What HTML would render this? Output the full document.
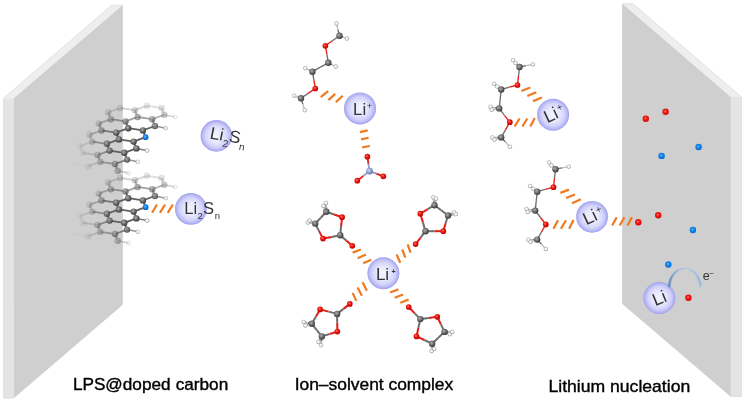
<!DOCTYPE html>
<html><head><meta charset="utf-8"><title>diagram</title>
<style>html,body{margin:0;padding:0;background:#fff;}body{width:745px;height:404px;overflow:hidden;font-family:"Liberation Sans",sans-serif;}</style></head>
<body>
<svg width="745" height="404" viewBox="0 0 745 404" style="display:block;font-family:'Liberation Sans',sans-serif">

<defs>
  <radialGradient id="gC" cx="40%" cy="38%" r="65%">
    <stop offset="0" stop-color="#b0b0b0"/><stop offset="0.45" stop-color="#747474"/><stop offset="1" stop-color="#343434"/>
  </radialGradient>
  <radialGradient id="gO" cx="40%" cy="38%" r="65%">
    <stop offset="0" stop-color="#ff7a6a"/><stop offset="0.4" stop-color="#ee1a12"/><stop offset="1" stop-color="#b80000"/>
  </radialGradient>
  <radialGradient id="gH" cx="45%" cy="42%" r="65%">
    <stop offset="0" stop-color="#ffffff"/><stop offset="0.6" stop-color="#f4f4f4"/><stop offset="1" stop-color="#9a9a9a"/>
  </radialGradient>
  <radialGradient id="gN" cx="42%" cy="40%" r="65%">
    <stop offset="0" stop-color="#5db4ff"/><stop offset="0.45" stop-color="#1683ea"/><stop offset="1" stop-color="#0b55b4"/>
  </radialGradient>
  <radialGradient id="gNn" cx="40%" cy="38%" r="65%">
    <stop offset="0" stop-color="#d4dcf2"/><stop offset="0.5" stop-color="#93a2cf"/><stop offset="1" stop-color="#6070a6"/>
  </radialGradient>
  <radialGradient id="gLi" cx="50%" cy="50%" r="50%">
    <stop offset="0" stop-color="#f3f3ff"/><stop offset="0.4" stop-color="#e9e9fe"/><stop offset="0.72" stop-color="#d2d2fa"/><stop offset="0.92" stop-color="#b2b2f4"/><stop offset="1" stop-color="#9c9cee"/>
  </radialGradient>
  <radialGradient id="gR" cx="45%" cy="42%" r="60%">
    <stop offset="0" stop-color="#ff9c90"/><stop offset="0.3" stop-color="#f5241c"/><stop offset="1" stop-color="#d60000"/>
  </radialGradient>
  <radialGradient id="gB" cx="45%" cy="42%" r="60%">
    <stop offset="0" stop-color="#84ccff"/><stop offset="0.3" stop-color="#168cf2"/><stop offset="1" stop-color="#0565cc"/>
  </radialGradient>
  <linearGradient id="gArc" x1="0" y1="0" x2="1" y2="0">
    <stop offset="0" stop-color="#6c8cb8"/><stop offset="0.2" stop-color="#8caad0"/><stop offset="0.5" stop-color="#adc8e9"/><stop offset="1" stop-color="#96b9e2"/>
  </linearGradient>
  <filter id="tx" x="-5%" y="-5%" width="110%" height="110%"><feOffset dx="0" dy="0"/></filter>
  <filter id="b1" x="-50%" y="-50%" width="200%" height="200%"><feGaussianBlur stdDeviation="0.35"/></filter>
  <filter id="b2" x="-20%" y="-20%" width="140%" height="140%"><feGaussianBlur stdDeviation="0.5"/></filter>
</defs>

<rect width="745" height="404" fill="#fff"/>
<polygon points="3.3,98.2 111.5,5 122.8,5 13.8,98.2" fill="#eeeeee"/>
<polygon points="3.3,98.2 13.8,98.2 13.8,398.2 3.3,398.2" fill="#e4e4e4"/>
<polygon points="13.8,98.2 122.8,5 122.8,304.7 13.8,398.2" fill="#cfcfcf"/>
<polyline points="3.5,398.2 3.5,98.3 111.6,5.2 122.6,5.2" fill="none" stroke="#dcdcdc" stroke-width="0.7"/>
<polyline points="3.3,398 13.8,398" fill="none" stroke="#d8d8d8" stroke-width="0.7"/>
<polygon points="622.1,3.5 633,3.5 741.7,96.9 730.8,96.9" fill="#eeeeee"/>
<polygon points="730.8,96.9 741.7,96.9 741.7,396.7 730.8,396.7" fill="#e4e4e4"/>
<polygon points="622.1,3.5 730.8,96.9 730.8,396.7 622.1,303.8" fill="#cfcfcf"/>
<polyline points="622.3,3.7 632.9,3.7 741.5,97 741.5,396.7" fill="none" stroke="#dcdcdc" stroke-width="0.7"/>
<polyline points="730.8,396.5 741.7,396.5" fill="none" stroke="#d8d8d8" stroke-width="0.7"/>
<g filter="url(#b2)">
<line x1="133.6" y1="141.6" x2="136.3" y2="148.4" stroke="#606060" stroke-width="1.8" opacity="1.00"/>
<line x1="92.2" y1="141.6" x2="106.9" y2="143.8" stroke="#606060" stroke-width="1.8" opacity="0.59"/>
<line x1="134.8" y1="110.2" x2="146.8" y2="105.8" stroke="#606060" stroke-width="1.8" opacity="0.25"/>
<line x1="89.5" y1="134.8" x2="92.2" y2="141.6" stroke="#606060" stroke-width="1.8" opacity="0.29"/>
<line x1="97.6" y1="155.0" x2="109.6" y2="150.6" stroke="#606060" stroke-width="1.8" opacity="0.65"/>
<line x1="128.2" y1="128.2" x2="142.9" y2="130.4" stroke="#606060" stroke-width="1.8" opacity="1.00"/>
<line x1="124.3" y1="152.8" x2="136.3" y2="148.4" stroke="#606060" stroke-width="1.8" opacity="1.00"/>
<line x1="88.3" y1="166.2" x2="100.3" y2="161.8" stroke="#606060" stroke-width="1.8" opacity="0.22"/>
<line x1="115.0" y1="164.0" x2="127.0" y2="159.6" stroke="#606060" stroke-width="1.8" opacity="0.76"/>
<line x1="109.6" y1="150.6" x2="124.3" y2="152.8" stroke="#606060" stroke-width="1.8" opacity="1.00"/>
<line x1="125.5" y1="121.4" x2="137.5" y2="117.0" stroke="#606060" stroke-width="1.8" opacity="0.62"/>
<line x1="82.9" y1="152.8" x2="97.6" y2="155.0" stroke="#606060" stroke-width="1.8" opacity="0.23"/>
<line x1="106.9" y1="143.8" x2="118.9" y2="139.4" stroke="#606060" stroke-width="1.8" opacity="1.00"/>
<line x1="161.5" y1="108.0" x2="164.2" y2="114.8" stroke="#606060" stroke-width="1.8" opacity="0.28"/>
<line x1="116.2" y1="132.6" x2="128.2" y2="128.2" stroke="#606060" stroke-width="1.8" opacity="1.00"/>
<line x1="110.8" y1="119.2" x2="125.5" y2="121.4" stroke="#606060" stroke-width="1.8" opacity="0.61"/>
<line x1="120.1" y1="108.0" x2="134.8" y2="110.2" stroke="#606060" stroke-width="1.8" opacity="0.27"/>
<line x1="98.8" y1="123.6" x2="110.8" y2="119.2" stroke="#606060" stroke-width="1.8" opacity="0.44"/>
<line x1="116.2" y1="132.6" x2="118.9" y2="139.4" stroke="#606060" stroke-width="1.8" opacity="1.00"/>
<line x1="142.9" y1="130.4" x2="154.9" y2="126.0" stroke="#606060" stroke-width="1.8" opacity="0.95"/>
<line x1="137.5" y1="117.0" x2="152.2" y2="119.2" stroke="#606060" stroke-width="1.8" opacity="0.56"/>
<line x1="108.1" y1="112.4" x2="120.1" y2="108.0" stroke="#606060" stroke-width="1.8" opacity="0.26"/>
<line x1="152.2" y1="119.2" x2="164.2" y2="114.8" stroke="#606060" stroke-width="1.8" opacity="0.46"/>
<line x1="80.2" y1="146.0" x2="92.2" y2="141.6" stroke="#606060" stroke-width="1.8" opacity="0.17"/>
<line x1="152.2" y1="119.2" x2="154.9" y2="126.0" stroke="#606060" stroke-width="1.8" opacity="0.70"/>
<line x1="133.6" y1="141.6" x2="145.6" y2="137.2" stroke="#606060" stroke-width="1.8" opacity="1.00"/>
<line x1="124.3" y1="152.8" x2="127.0" y2="159.6" stroke="#606060" stroke-width="1.8" opacity="0.99"/>
<line x1="134.8" y1="110.2" x2="137.5" y2="117.0" stroke="#606060" stroke-width="1.8" opacity="0.41"/>
<line x1="89.5" y1="134.8" x2="101.5" y2="130.4" stroke="#606060" stroke-width="1.8" opacity="0.39"/>
<line x1="146.8" y1="105.8" x2="161.5" y2="108.0" stroke="#606060" stroke-width="1.8" opacity="0.20"/>
<line x1="97.6" y1="155.0" x2="100.3" y2="161.8" stroke="#606060" stroke-width="1.8" opacity="0.41"/>
<line x1="118.9" y1="139.4" x2="133.6" y2="141.6" stroke="#606060" stroke-width="1.8" opacity="1.00"/>
<line x1="100.3" y1="161.8" x2="115.0" y2="164.0" stroke="#606060" stroke-width="1.8" opacity="0.52"/>
<line x1="73.6" y1="164.0" x2="88.3" y2="166.2" stroke="#606060" stroke-width="1.8" opacity="0.04"/>
<line x1="106.9" y1="143.8" x2="109.6" y2="150.6" stroke="#606060" stroke-width="1.8" opacity="0.89"/>
<line x1="115.0" y1="164.0" x2="117.7" y2="170.8" stroke="#606060" stroke-width="1.8" opacity="0.52"/>
<line x1="125.5" y1="121.4" x2="128.2" y2="128.2" stroke="#606060" stroke-width="1.8" opacity="0.85"/>
<line x1="142.9" y1="130.4" x2="145.6" y2="137.2" stroke="#606060" stroke-width="1.8" opacity="1.00"/>
<line x1="108.1" y1="112.4" x2="110.8" y2="119.2" stroke="#606060" stroke-width="1.8" opacity="0.36"/>
<line x1="101.5" y1="130.4" x2="116.2" y2="132.6" stroke="#606060" stroke-width="1.8" opacity="0.81"/>
<line x1="80.2" y1="146.0" x2="82.9" y2="152.8" stroke="#606060" stroke-width="1.8" opacity="0.09"/>
<line x1="98.8" y1="123.6" x2="101.5" y2="130.4" stroke="#606060" stroke-width="1.8" opacity="0.45"/>
<line x1="117.7" y1="170.8" x2="128.5" y2="173.0" stroke="#7c7c7c" stroke-width="1.5" opacity="0.40"/>
<circle cx="128.5" cy="173.0" r="1.9" fill="url(#gH)" stroke="#8e8e8e" stroke-width="0.5" opacity="0.40"/>
<line x1="127.0" y1="159.6" x2="137.8" y2="161.8" stroke="#7c7c7c" stroke-width="1.5" opacity="0.80"/>
<circle cx="137.8" cy="161.8" r="1.9" fill="url(#gH)" stroke="#8e8e8e" stroke-width="0.5" opacity="0.80"/>
<line x1="136.3" y1="148.4" x2="147.1" y2="150.6" stroke="#7c7c7c" stroke-width="1.5" opacity="1.00"/>
<circle cx="147.1" cy="150.6" r="1.9" fill="url(#gH)" stroke="#8e8e8e" stroke-width="0.5" opacity="1.00"/>
<line x1="154.9" y1="126.0" x2="165.7" y2="128.2" stroke="#7c7c7c" stroke-width="1.5" opacity="0.78"/>
<circle cx="165.7" cy="128.2" r="1.9" fill="url(#gH)" stroke="#8e8e8e" stroke-width="0.5" opacity="0.78"/>
<line x1="164.2" y1="114.8" x2="175.0" y2="117.0" stroke="#7c7c7c" stroke-width="1.5" opacity="0.35"/>
<circle cx="175.0" cy="117.0" r="1.9" fill="url(#gH)" stroke="#8e8e8e" stroke-width="0.5" opacity="0.35"/>
<circle cx="109.6" cy="150.6" r="3.2" fill="url(#gC)" opacity="0.88"/>
<circle cx="124.3" cy="152.8" r="3.2" fill="url(#gC)" opacity="1.00"/>
<circle cx="127.0" cy="159.6" r="3.2" fill="url(#gC)" opacity="0.87"/>
<circle cx="115.0" cy="164.0" r="3.2" fill="url(#gC)" opacity="0.61"/>
<circle cx="100.3" cy="161.8" r="3.2" fill="url(#gC)" opacity="0.38"/>
<circle cx="97.6" cy="155.0" r="3.2" fill="url(#gC)" opacity="0.42"/>
<circle cx="118.9" cy="139.4" r="3.2" fill="url(#gC)" opacity="1.00"/>
<circle cx="133.6" cy="141.6" r="3.2" fill="url(#gC)" opacity="1.00"/>
<circle cx="136.3" cy="148.4" r="3.2" fill="url(#gC)" opacity="1.00"/>
<circle cx="106.9" cy="143.8" r="3.2" fill="url(#gC)" opacity="0.87"/>
<circle cx="128.2" cy="128.2" r="3.2" fill="url(#gC)" opacity="0.99"/>
<circle cx="142.9" cy="130.4" r="3.2" fill="url(#gC)" opacity="1.00"/>
<circle cx="116.2" cy="132.6" r="3.2" fill="url(#gC)" opacity="1.00"/>
<circle cx="137.5" cy="117.0" r="3.2" fill="url(#gC)" opacity="0.53"/>
<circle cx="152.2" cy="119.2" r="3.2" fill="url(#gC)" opacity="0.58"/>
<circle cx="154.9" cy="126.0" r="3.2" fill="url(#gC)" opacity="0.82"/>
<circle cx="125.5" cy="121.4" r="3.2" fill="url(#gC)" opacity="0.70"/>
<circle cx="146.8" cy="105.8" r="3.2" fill="url(#gC)" opacity="0.19"/>
<circle cx="161.5" cy="108.0" r="3.2" fill="url(#gC)" opacity="0.21"/>
<circle cx="164.2" cy="114.8" r="3.2" fill="url(#gC)" opacity="0.36"/>
<circle cx="134.8" cy="110.2" r="3.2" fill="url(#gC)" opacity="0.31"/>
<circle cx="82.9" cy="152.8" r="3.2" fill="url(#gC)" opacity="0.10"/>
<circle cx="88.3" cy="166.2" r="3.2" fill="url(#gC)" opacity="0.11"/>
<circle cx="92.2" cy="141.6" r="3.2" fill="url(#gC)" opacity="0.33"/>
<circle cx="80.2" cy="146.0" r="3.2" fill="url(#gC)" opacity="0.07"/>
<circle cx="101.5" cy="130.4" r="3.2" fill="url(#gC)" opacity="0.56"/>
<circle cx="89.5" cy="134.8" r="3.2" fill="url(#gC)" opacity="0.24"/>
<circle cx="110.8" cy="119.2" r="3.2" fill="url(#gC)" opacity="0.48"/>
<circle cx="98.8" cy="123.6" r="3.2" fill="url(#gC)" opacity="0.35"/>
<circle cx="120.1" cy="108.0" r="3.2" fill="url(#gC)" opacity="0.23"/>
<circle cx="108.1" cy="112.4" r="3.2" fill="url(#gC)" opacity="0.26"/>
<circle cx="117.7" cy="170.8" r="3.2" fill="url(#gC)" opacity="0.43"/>
<circle cx="145.6" cy="137.2" r="2.9" fill="url(#gN)"/>
<line x1="128.2" y1="198.2" x2="142.9" y2="200.4" stroke="#606060" stroke-width="1.8" opacity="1.00"/>
<line x1="115.0" y1="234.0" x2="127.0" y2="229.6" stroke="#606060" stroke-width="1.8" opacity="0.76"/>
<line x1="97.6" y1="225.0" x2="100.3" y2="231.8" stroke="#606060" stroke-width="1.8" opacity="0.41"/>
<line x1="124.3" y1="222.8" x2="136.3" y2="218.4" stroke="#606060" stroke-width="1.8" opacity="1.00"/>
<line x1="118.9" y1="209.4" x2="133.6" y2="211.6" stroke="#606060" stroke-width="1.8" opacity="1.00"/>
<line x1="88.3" y1="236.2" x2="100.3" y2="231.8" stroke="#606060" stroke-width="1.8" opacity="0.22"/>
<line x1="108.1" y1="182.4" x2="120.1" y2="178.0" stroke="#606060" stroke-width="1.8" opacity="0.26"/>
<line x1="134.8" y1="180.2" x2="146.8" y2="175.8" stroke="#606060" stroke-width="1.8" opacity="0.25"/>
<line x1="152.2" y1="189.2" x2="164.2" y2="184.8" stroke="#606060" stroke-width="1.8" opacity="0.46"/>
<line x1="116.2" y1="202.6" x2="128.2" y2="198.2" stroke="#606060" stroke-width="1.8" opacity="1.00"/>
<line x1="108.1" y1="182.4" x2="110.8" y2="189.2" stroke="#606060" stroke-width="1.8" opacity="0.36"/>
<line x1="98.8" y1="193.6" x2="110.8" y2="189.2" stroke="#606060" stroke-width="1.8" opacity="0.44"/>
<line x1="152.2" y1="189.2" x2="154.9" y2="196.0" stroke="#606060" stroke-width="1.8" opacity="0.70"/>
<line x1="125.5" y1="191.4" x2="137.5" y2="187.0" stroke="#606060" stroke-width="1.8" opacity="0.62"/>
<line x1="133.6" y1="211.6" x2="145.6" y2="207.2" stroke="#606060" stroke-width="1.8" opacity="1.00"/>
<line x1="161.5" y1="178.0" x2="164.2" y2="184.8" stroke="#606060" stroke-width="1.8" opacity="0.28"/>
<line x1="110.8" y1="189.2" x2="125.5" y2="191.4" stroke="#606060" stroke-width="1.8" opacity="0.61"/>
<line x1="106.9" y1="213.8" x2="109.6" y2="220.6" stroke="#606060" stroke-width="1.8" opacity="0.89"/>
<line x1="142.9" y1="200.4" x2="154.9" y2="196.0" stroke="#606060" stroke-width="1.8" opacity="0.95"/>
<line x1="124.3" y1="222.8" x2="127.0" y2="229.6" stroke="#606060" stroke-width="1.8" opacity="0.99"/>
<line x1="82.9" y1="222.8" x2="97.6" y2="225.0" stroke="#606060" stroke-width="1.8" opacity="0.23"/>
<line x1="89.5" y1="204.8" x2="101.5" y2="200.4" stroke="#606060" stroke-width="1.8" opacity="0.39"/>
<line x1="146.8" y1="175.8" x2="161.5" y2="178.0" stroke="#606060" stroke-width="1.8" opacity="0.20"/>
<line x1="100.3" y1="231.8" x2="115.0" y2="234.0" stroke="#606060" stroke-width="1.8" opacity="0.52"/>
<line x1="116.2" y1="202.6" x2="118.9" y2="209.4" stroke="#606060" stroke-width="1.8" opacity="1.00"/>
<line x1="80.2" y1="216.0" x2="92.2" y2="211.6" stroke="#606060" stroke-width="1.8" opacity="0.17"/>
<line x1="137.5" y1="187.0" x2="152.2" y2="189.2" stroke="#606060" stroke-width="1.8" opacity="0.56"/>
<line x1="134.8" y1="180.2" x2="137.5" y2="187.0" stroke="#606060" stroke-width="1.8" opacity="0.41"/>
<line x1="109.6" y1="220.6" x2="124.3" y2="222.8" stroke="#606060" stroke-width="1.8" opacity="1.00"/>
<line x1="120.1" y1="178.0" x2="134.8" y2="180.2" stroke="#606060" stroke-width="1.8" opacity="0.27"/>
<line x1="115.0" y1="234.0" x2="117.7" y2="240.8" stroke="#606060" stroke-width="1.8" opacity="0.52"/>
<line x1="133.6" y1="211.6" x2="136.3" y2="218.4" stroke="#606060" stroke-width="1.8" opacity="1.00"/>
<line x1="92.2" y1="211.6" x2="106.9" y2="213.8" stroke="#606060" stroke-width="1.8" opacity="0.59"/>
<line x1="73.6" y1="234.0" x2="88.3" y2="236.2" stroke="#606060" stroke-width="1.8" opacity="0.04"/>
<line x1="97.6" y1="225.0" x2="109.6" y2="220.6" stroke="#606060" stroke-width="1.8" opacity="0.65"/>
<line x1="98.8" y1="193.6" x2="101.5" y2="200.4" stroke="#606060" stroke-width="1.8" opacity="0.45"/>
<line x1="125.5" y1="191.4" x2="128.2" y2="198.2" stroke="#606060" stroke-width="1.8" opacity="0.85"/>
<line x1="106.9" y1="213.8" x2="118.9" y2="209.4" stroke="#606060" stroke-width="1.8" opacity="1.00"/>
<line x1="142.9" y1="200.4" x2="145.6" y2="207.2" stroke="#606060" stroke-width="1.8" opacity="1.00"/>
<line x1="101.5" y1="200.4" x2="116.2" y2="202.6" stroke="#606060" stroke-width="1.8" opacity="0.81"/>
<line x1="80.2" y1="216.0" x2="82.9" y2="222.8" stroke="#606060" stroke-width="1.8" opacity="0.09"/>
<line x1="89.5" y1="204.8" x2="92.2" y2="211.6" stroke="#606060" stroke-width="1.8" opacity="0.29"/>
<line x1="117.7" y1="240.8" x2="128.5" y2="243.0" stroke="#7c7c7c" stroke-width="1.5" opacity="0.40"/>
<circle cx="128.5" cy="243.0" r="1.9" fill="url(#gH)" stroke="#8e8e8e" stroke-width="0.5" opacity="0.40"/>
<line x1="127.0" y1="229.6" x2="137.8" y2="231.8" stroke="#7c7c7c" stroke-width="1.5" opacity="0.80"/>
<circle cx="137.8" cy="231.8" r="1.9" fill="url(#gH)" stroke="#8e8e8e" stroke-width="0.5" opacity="0.80"/>
<line x1="136.3" y1="218.4" x2="147.1" y2="220.6" stroke="#7c7c7c" stroke-width="1.5" opacity="1.00"/>
<circle cx="147.1" cy="220.6" r="1.9" fill="url(#gH)" stroke="#8e8e8e" stroke-width="0.5" opacity="1.00"/>
<line x1="154.9" y1="196.0" x2="165.7" y2="198.2" stroke="#7c7c7c" stroke-width="1.5" opacity="0.78"/>
<circle cx="165.7" cy="198.2" r="1.9" fill="url(#gH)" stroke="#8e8e8e" stroke-width="0.5" opacity="0.78"/>
<line x1="164.2" y1="184.8" x2="175.0" y2="187.0" stroke="#7c7c7c" stroke-width="1.5" opacity="0.35"/>
<circle cx="175.0" cy="187.0" r="1.9" fill="url(#gH)" stroke="#8e8e8e" stroke-width="0.5" opacity="0.35"/>
<circle cx="109.6" cy="220.6" r="3.2" fill="url(#gC)" opacity="0.88"/>
<circle cx="124.3" cy="222.8" r="3.2" fill="url(#gC)" opacity="1.00"/>
<circle cx="127.0" cy="229.6" r="3.2" fill="url(#gC)" opacity="0.87"/>
<circle cx="115.0" cy="234.0" r="3.2" fill="url(#gC)" opacity="0.61"/>
<circle cx="100.3" cy="231.8" r="3.2" fill="url(#gC)" opacity="0.38"/>
<circle cx="97.6" cy="225.0" r="3.2" fill="url(#gC)" opacity="0.42"/>
<circle cx="118.9" cy="209.4" r="3.2" fill="url(#gC)" opacity="1.00"/>
<circle cx="133.6" cy="211.6" r="3.2" fill="url(#gC)" opacity="1.00"/>
<circle cx="136.3" cy="218.4" r="3.2" fill="url(#gC)" opacity="1.00"/>
<circle cx="106.9" cy="213.8" r="3.2" fill="url(#gC)" opacity="0.87"/>
<circle cx="128.2" cy="198.2" r="3.2" fill="url(#gC)" opacity="0.99"/>
<circle cx="142.9" cy="200.4" r="3.2" fill="url(#gC)" opacity="1.00"/>
<circle cx="116.2" cy="202.6" r="3.2" fill="url(#gC)" opacity="1.00"/>
<circle cx="137.5" cy="187.0" r="3.2" fill="url(#gC)" opacity="0.53"/>
<circle cx="152.2" cy="189.2" r="3.2" fill="url(#gC)" opacity="0.58"/>
<circle cx="154.9" cy="196.0" r="3.2" fill="url(#gC)" opacity="0.82"/>
<circle cx="125.5" cy="191.4" r="3.2" fill="url(#gC)" opacity="0.70"/>
<circle cx="146.8" cy="175.8" r="3.2" fill="url(#gC)" opacity="0.19"/>
<circle cx="161.5" cy="178.0" r="3.2" fill="url(#gC)" opacity="0.21"/>
<circle cx="164.2" cy="184.8" r="3.2" fill="url(#gC)" opacity="0.36"/>
<circle cx="134.8" cy="180.2" r="3.2" fill="url(#gC)" opacity="0.31"/>
<circle cx="82.9" cy="222.8" r="3.2" fill="url(#gC)" opacity="0.10"/>
<circle cx="88.3" cy="236.2" r="3.2" fill="url(#gC)" opacity="0.11"/>
<circle cx="92.2" cy="211.6" r="3.2" fill="url(#gC)" opacity="0.33"/>
<circle cx="80.2" cy="216.0" r="3.2" fill="url(#gC)" opacity="0.07"/>
<circle cx="101.5" cy="200.4" r="3.2" fill="url(#gC)" opacity="0.56"/>
<circle cx="89.5" cy="204.8" r="3.2" fill="url(#gC)" opacity="0.24"/>
<circle cx="110.8" cy="189.2" r="3.2" fill="url(#gC)" opacity="0.48"/>
<circle cx="98.8" cy="193.6" r="3.2" fill="url(#gC)" opacity="0.35"/>
<circle cx="120.1" cy="178.0" r="3.2" fill="url(#gC)" opacity="0.23"/>
<circle cx="108.1" cy="182.4" r="3.2" fill="url(#gC)" opacity="0.26"/>
<circle cx="117.7" cy="240.8" r="3.2" fill="url(#gC)" opacity="0.43"/>
<circle cx="145.6" cy="207.2" r="2.9" fill="url(#gN)"/>
</g>
<circle cx="216.4" cy="135.9" r="15.8" fill="url(#gLi)"/>
<circle cx="190.9" cy="208.9" r="15.9" fill="url(#gLi)"/>
<line x1="152.1" y1="212.8" x2="157.0" y2="204.5" stroke="#ef7a1f" stroke-width="2.2"/>
<line x1="159.9" y1="212.8" x2="165.1" y2="204.5" stroke="#ef7a1f" stroke-width="2.2"/>
<line x1="167.7" y1="212.8" x2="172.9" y2="204.5" stroke="#ef7a1f" stroke-width="2.2"/>


<g filter="url(#b1)">
<line x1="336.4" y1="23.5" x2="337.9" y2="29.6" stroke="#bdbdbd" stroke-width="1.35"/>
<line x1="337.9" y1="29.6" x2="339.5" y2="35.8" stroke="#6e6e6e" stroke-width="1.35"/>
<line x1="339.5" y1="35.8" x2="343.2" y2="37.1" stroke="#6e6e6e" stroke-width="1.35"/>
<line x1="343.2" y1="37.1" x2="346.9" y2="38.5" stroke="#bdbdbd" stroke-width="1.35"/>
<line x1="339.5" y1="35.8" x2="332.4" y2="40.8" stroke="#6e6e6e" stroke-width="1.35"/>
<line x1="332.4" y1="40.8" x2="325.4" y2="45.8" stroke="#e81a14" stroke-width="1.35"/>
<line x1="325.4" y1="45.8" x2="326.9" y2="54.3" stroke="#e81a14" stroke-width="1.35"/>
<line x1="326.9" y1="54.3" x2="328.3" y2="62.8" stroke="#6e6e6e" stroke-width="1.35"/>
<line x1="328.3" y1="62.8" x2="332.1" y2="64.7" stroke="#6e6e6e" stroke-width="1.35"/>
<line x1="332.1" y1="64.7" x2="335.8" y2="66.5" stroke="#bdbdbd" stroke-width="1.35"/>
<line x1="328.3" y1="62.8" x2="320.4" y2="67.2" stroke="#6e6e6e" stroke-width="1.35"/>
<line x1="320.4" y1="67.2" x2="312.4" y2="71.7" stroke="#6e6e6e" stroke-width="1.35"/>
<line x1="312.4" y1="71.7" x2="308.9" y2="70.0" stroke="#6e6e6e" stroke-width="1.35"/>
<line x1="308.9" y1="70.0" x2="305.3" y2="68.2" stroke="#bdbdbd" stroke-width="1.35"/>
<line x1="312.4" y1="71.7" x2="313.9" y2="80.1" stroke="#6e6e6e" stroke-width="1.35"/>
<line x1="313.9" y1="80.1" x2="315.3" y2="88.5" stroke="#e81a14" stroke-width="1.35"/>
<line x1="315.3" y1="88.5" x2="308.1" y2="93.4" stroke="#e81a14" stroke-width="1.35"/>
<line x1="308.1" y1="93.4" x2="301.0" y2="98.3" stroke="#6e6e6e" stroke-width="1.35"/>
<line x1="301.0" y1="98.3" x2="297.6" y2="97.0" stroke="#6e6e6e" stroke-width="1.35"/>
<line x1="297.6" y1="97.0" x2="294.2" y2="95.7" stroke="#bdbdbd" stroke-width="1.35"/>
<line x1="301.0" y1="98.3" x2="302.9" y2="104.2" stroke="#6e6e6e" stroke-width="1.35"/>
<line x1="302.9" y1="104.2" x2="304.7" y2="110.2" stroke="#bdbdbd" stroke-width="1.35"/>
<circle cx="336.4" cy="23.5" r="1.9" fill="url(#gH)" stroke="#909090" stroke-width="0.5"/>
<circle cx="346.9" cy="38.5" r="1.9" fill="url(#gH)" stroke="#909090" stroke-width="0.5"/>
<circle cx="335.8" cy="66.5" r="1.9" fill="url(#gH)" stroke="#909090" stroke-width="0.5"/>
<circle cx="305.3" cy="68.2" r="1.9" fill="url(#gH)" stroke="#909090" stroke-width="0.5"/>
<circle cx="294.2" cy="95.7" r="1.9" fill="url(#gH)" stroke="#909090" stroke-width="0.5"/>
<circle cx="304.7" cy="110.2" r="1.9" fill="url(#gH)" stroke="#909090" stroke-width="0.5"/>
<circle cx="339.5" cy="35.8" r="3.2" fill="url(#gC)"/>
<circle cx="325.4" cy="45.8" r="2.85" fill="url(#gO)"/>
<circle cx="328.3" cy="62.8" r="3.2" fill="url(#gC)"/>
<circle cx="312.4" cy="71.7" r="3.2" fill="url(#gC)"/>
<circle cx="315.3" cy="88.5" r="2.85" fill="url(#gO)"/>
<circle cx="301.0" cy="98.3" r="3.2" fill="url(#gC)"/>
</g>
<line x1="320.7" y1="97.1" x2="328.1" y2="91.2" stroke="#ef7a1f" stroke-width="2.2"/>
<line x1="328.4" y1="100.1" x2="335.2" y2="93.9" stroke="#ef7a1f" stroke-width="2.2"/>
<line x1="335.8" y1="102.3" x2="342.7" y2="95.7" stroke="#ef7a1f" stroke-width="2.2"/>
<circle cx="360" cy="108.4" r="16" fill="url(#gLi)"/>

<line x1="359.9" y1="132.1" x2="367.7" y2="130.4" stroke="#ef7a1f" stroke-width="2.2"/>
<line x1="361.1" y1="139.4" x2="368.6" y2="137.7" stroke="#ef7a1f" stroke-width="2.2"/>
<line x1="362.2" y1="147.4" x2="369.8" y2="146.0" stroke="#ef7a1f" stroke-width="2.2"/>
<g filter="url(#b1)">
<line x1="367.4" y1="156.7" x2="368.4" y2="163.9" stroke="#e81a14" stroke-width="1.8"/>
<line x1="368.4" y1="163.9" x2="369.5" y2="171.1" stroke="#8b9acb" stroke-width="1.8"/>
<line x1="369.5" y1="171.1" x2="376.4" y2="173.7" stroke="#8b9acb" stroke-width="1.8"/>
<line x1="376.4" y1="173.7" x2="383.3" y2="176.3" stroke="#e81a14" stroke-width="1.8"/>
<line x1="369.5" y1="171.1" x2="363.4" y2="175.9" stroke="#8b9acb" stroke-width="1.8"/>
<line x1="363.4" y1="175.9" x2="357.3" y2="180.7" stroke="#e81a14" stroke-width="1.8"/>
<circle cx="367.4" cy="156.7" r="2.85" fill="url(#gO)"/>
<circle cx="369.5" cy="171.1" r="3.4" fill="url(#gNn)"/>
<circle cx="383.3" cy="176.3" r="2.85" fill="url(#gO)"/>
<circle cx="357.3" cy="180.7" r="2.85" fill="url(#gO)"/>
</g>
<g filter="url(#b1)">
<line x1="326.3" y1="211.8" x2="326.1" y2="207.4" stroke="#6e6e6e" stroke-width="2.0"/>
<line x1="326.1" y1="207.4" x2="326.0" y2="203.0" stroke="#bdbdbd" stroke-width="2.0"/>
<line x1="326.3" y1="211.8" x2="324.9" y2="208.9" stroke="#6e6e6e" stroke-width="2.0"/>
<line x1="324.9" y1="208.9" x2="323.4" y2="206.0" stroke="#bdbdbd" stroke-width="2.0"/>
<line x1="326.3" y1="211.8" x2="320.8" y2="217.7" stroke="#6e6e6e" stroke-width="2.0"/>
<line x1="320.8" y1="217.7" x2="315.2" y2="223.6" stroke="#6e6e6e" stroke-width="2.0"/>
<line x1="315.2" y1="223.6" x2="311.5" y2="223.1" stroke="#6e6e6e" stroke-width="2.0"/>
<line x1="311.5" y1="223.1" x2="307.8" y2="222.5" stroke="#bdbdbd" stroke-width="2.0"/>
<line x1="315.2" y1="223.6" x2="312.4" y2="222.1" stroke="#6e6e6e" stroke-width="2.0"/>
<line x1="312.4" y1="222.1" x2="309.5" y2="220.5" stroke="#bdbdbd" stroke-width="2.0"/>
<line x1="326.3" y1="211.8" x2="334.2" y2="214.5" stroke="#6e6e6e" stroke-width="2.0"/>
<line x1="334.2" y1="214.5" x2="342.1" y2="217.2" stroke="#e81a14" stroke-width="2.0"/>
<line x1="315.2" y1="223.6" x2="319.1" y2="231.1" stroke="#6e6e6e" stroke-width="2.0"/>
<line x1="319.1" y1="231.1" x2="323.0" y2="238.6" stroke="#e81a14" stroke-width="2.0"/>
<line x1="342.1" y1="217.2" x2="341.1" y2="226.2" stroke="#e81a14" stroke-width="2.0"/>
<line x1="341.1" y1="226.2" x2="340.2" y2="235.2" stroke="#6e6e6e" stroke-width="2.0"/>
<line x1="323.0" y1="238.6" x2="331.6" y2="236.9" stroke="#e81a14" stroke-width="2.0"/>
<line x1="331.6" y1="236.9" x2="340.2" y2="235.2" stroke="#6e6e6e" stroke-width="2.0"/>
<line x1="340.2" y1="235.2" x2="346.2" y2="240.5" stroke="#6e6e6e" stroke-width="2.0"/>
<line x1="346.2" y1="240.5" x2="352.3" y2="245.8" stroke="#e81a14" stroke-width="2.0"/>
<circle cx="326.0" cy="203.0" r="1.9" fill="url(#gH)" stroke="#909090" stroke-width="0.5"/>
<circle cx="323.4" cy="206.0" r="1.9" fill="url(#gH)" stroke="#909090" stroke-width="0.5"/>
<circle cx="307.8" cy="222.5" r="1.9" fill="url(#gH)" stroke="#909090" stroke-width="0.5"/>
<circle cx="309.5" cy="220.5" r="1.9" fill="url(#gH)" stroke="#909090" stroke-width="0.5"/>
<circle cx="326.3" cy="211.8" r="3.2" fill="url(#gC)"/>
<circle cx="315.2" cy="223.6" r="3.2" fill="url(#gC)"/>
<circle cx="342.1" cy="217.2" r="2.85" fill="url(#gO)"/>
<circle cx="323.0" cy="238.6" r="2.85" fill="url(#gO)"/>
<circle cx="340.2" cy="235.2" r="3.2" fill="url(#gC)"/>
<circle cx="352.3" cy="245.8" r="2.85" fill="url(#gO)"/>
<line x1="434.5" y1="205.2" x2="433.9" y2="201.2" stroke="#6e6e6e" stroke-width="2.0"/>
<line x1="433.9" y1="201.2" x2="433.3" y2="197.3" stroke="#bdbdbd" stroke-width="2.0"/>
<line x1="434.5" y1="205.2" x2="435.2" y2="201.9" stroke="#6e6e6e" stroke-width="2.0"/>
<line x1="435.2" y1="201.9" x2="435.9" y2="198.7" stroke="#bdbdbd" stroke-width="2.0"/>
<line x1="434.5" y1="205.2" x2="441.2" y2="210.3" stroke="#6e6e6e" stroke-width="2.0"/>
<line x1="441.2" y1="210.3" x2="448.0" y2="215.5" stroke="#6e6e6e" stroke-width="2.0"/>
<line x1="448.0" y1="215.5" x2="451.1" y2="213.8" stroke="#6e6e6e" stroke-width="2.0"/>
<line x1="451.1" y1="213.8" x2="454.1" y2="212.2" stroke="#bdbdbd" stroke-width="2.0"/>
<line x1="448.0" y1="215.5" x2="451.9" y2="214.8" stroke="#6e6e6e" stroke-width="2.0"/>
<line x1="451.9" y1="214.8" x2="455.8" y2="214.2" stroke="#bdbdbd" stroke-width="2.0"/>
<line x1="434.5" y1="205.2" x2="427.4" y2="209.4" stroke="#6e6e6e" stroke-width="2.0"/>
<line x1="427.4" y1="209.4" x2="420.3" y2="213.7" stroke="#e81a14" stroke-width="2.0"/>
<line x1="448.0" y1="215.5" x2="445.6" y2="223.3" stroke="#6e6e6e" stroke-width="2.0"/>
<line x1="445.6" y1="223.3" x2="443.3" y2="231.2" stroke="#e81a14" stroke-width="2.0"/>
<line x1="420.3" y1="213.7" x2="422.9" y2="222.4" stroke="#e81a14" stroke-width="2.0"/>
<line x1="422.9" y1="222.4" x2="425.5" y2="231.2" stroke="#6e6e6e" stroke-width="2.0"/>
<line x1="443.3" y1="231.2" x2="434.4" y2="231.2" stroke="#e81a14" stroke-width="2.0"/>
<line x1="434.4" y1="231.2" x2="425.5" y2="231.2" stroke="#6e6e6e" stroke-width="2.0"/>
<line x1="425.5" y1="231.2" x2="420.6" y2="237.6" stroke="#6e6e6e" stroke-width="2.0"/>
<line x1="420.6" y1="237.6" x2="415.6" y2="244.1" stroke="#e81a14" stroke-width="2.0"/>
<circle cx="433.3" cy="197.3" r="1.9" fill="url(#gH)" stroke="#909090" stroke-width="0.5"/>
<circle cx="435.9" cy="198.7" r="1.9" fill="url(#gH)" stroke="#909090" stroke-width="0.5"/>
<circle cx="454.1" cy="212.2" r="1.9" fill="url(#gH)" stroke="#909090" stroke-width="0.5"/>
<circle cx="455.8" cy="214.2" r="1.9" fill="url(#gH)" stroke="#909090" stroke-width="0.5"/>
<circle cx="434.5" cy="205.2" r="3.2" fill="url(#gC)"/>
<circle cx="448.0" cy="215.5" r="3.2" fill="url(#gC)"/>
<circle cx="420.3" cy="213.7" r="2.85" fill="url(#gO)"/>
<circle cx="443.3" cy="231.2" r="2.85" fill="url(#gO)"/>
<circle cx="425.5" cy="231.2" r="3.2" fill="url(#gC)"/>
<circle cx="415.6" cy="244.1" r="2.85" fill="url(#gO)"/>
<line x1="321.8" y1="336.4" x2="320.1" y2="339.1" stroke="#6e6e6e" stroke-width="2.0"/>
<line x1="320.1" y1="339.1" x2="318.4" y2="341.9" stroke="#bdbdbd" stroke-width="2.0"/>
<line x1="321.8" y1="336.4" x2="321.4" y2="340.8" stroke="#6e6e6e" stroke-width="2.0"/>
<line x1="321.4" y1="340.8" x2="321.0" y2="345.1" stroke="#bdbdbd" stroke-width="2.0"/>
<line x1="321.8" y1="336.4" x2="316.8" y2="330.1" stroke="#6e6e6e" stroke-width="2.0"/>
<line x1="316.8" y1="330.1" x2="311.8" y2="323.8" stroke="#6e6e6e" stroke-width="2.0"/>
<line x1="311.8" y1="323.8" x2="307.8" y2="322.9" stroke="#6e6e6e" stroke-width="2.0"/>
<line x1="307.8" y1="322.9" x2="303.7" y2="322.0" stroke="#bdbdbd" stroke-width="2.0"/>
<line x1="311.8" y1="323.8" x2="308.6" y2="324.6" stroke="#6e6e6e" stroke-width="2.0"/>
<line x1="308.6" y1="324.6" x2="305.4" y2="325.5" stroke="#bdbdbd" stroke-width="2.0"/>
<line x1="321.8" y1="336.4" x2="329.6" y2="334.0" stroke="#6e6e6e" stroke-width="2.0"/>
<line x1="329.6" y1="334.0" x2="337.4" y2="331.6" stroke="#e81a14" stroke-width="2.0"/>
<line x1="311.8" y1="323.8" x2="316.0" y2="316.6" stroke="#6e6e6e" stroke-width="2.0"/>
<line x1="316.0" y1="316.6" x2="320.1" y2="309.4" stroke="#e81a14" stroke-width="2.0"/>
<line x1="337.4" y1="331.6" x2="337.2" y2="322.8" stroke="#e81a14" stroke-width="2.0"/>
<line x1="337.2" y1="322.8" x2="337.1" y2="313.9" stroke="#6e6e6e" stroke-width="2.0"/>
<line x1="320.1" y1="309.4" x2="328.6" y2="311.6" stroke="#e81a14" stroke-width="2.0"/>
<line x1="328.6" y1="311.6" x2="337.1" y2="313.9" stroke="#6e6e6e" stroke-width="2.0"/>
<line x1="337.1" y1="313.9" x2="343.5" y2="308.9" stroke="#6e6e6e" stroke-width="2.0"/>
<line x1="343.5" y1="308.9" x2="349.8" y2="303.9" stroke="#e81a14" stroke-width="2.0"/>
<circle cx="318.4" cy="341.9" r="1.9" fill="url(#gH)" stroke="#909090" stroke-width="0.5"/>
<circle cx="321.0" cy="345.1" r="1.9" fill="url(#gH)" stroke="#909090" stroke-width="0.5"/>
<circle cx="303.7" cy="322.0" r="1.9" fill="url(#gH)" stroke="#909090" stroke-width="0.5"/>
<circle cx="305.4" cy="325.5" r="1.9" fill="url(#gH)" stroke="#909090" stroke-width="0.5"/>
<circle cx="321.8" cy="336.4" r="3.2" fill="url(#gC)"/>
<circle cx="311.8" cy="323.8" r="3.2" fill="url(#gC)"/>
<circle cx="337.4" cy="331.6" r="2.85" fill="url(#gO)"/>
<circle cx="320.1" cy="309.4" r="2.85" fill="url(#gO)"/>
<circle cx="337.1" cy="313.9" r="3.2" fill="url(#gC)"/>
<circle cx="349.8" cy="303.9" r="2.85" fill="url(#gO)"/>
<line x1="432.1" y1="343.7" x2="431.9" y2="347.4" stroke="#6e6e6e" stroke-width="2.0"/>
<line x1="431.9" y1="347.4" x2="431.6" y2="351.0" stroke="#bdbdbd" stroke-width="2.0"/>
<line x1="432.1" y1="343.7" x2="433.1" y2="346.3" stroke="#6e6e6e" stroke-width="2.0"/>
<line x1="433.1" y1="346.3" x2="434.2" y2="348.9" stroke="#bdbdbd" stroke-width="2.0"/>
<line x1="432.1" y1="343.7" x2="438.3" y2="337.8" stroke="#6e6e6e" stroke-width="2.0"/>
<line x1="438.3" y1="337.8" x2="444.5" y2="331.9" stroke="#6e6e6e" stroke-width="2.0"/>
<line x1="444.5" y1="331.9" x2="447.1" y2="333.0" stroke="#6e6e6e" stroke-width="2.0"/>
<line x1="447.1" y1="333.0" x2="449.7" y2="334.2" stroke="#bdbdbd" stroke-width="2.0"/>
<line x1="444.5" y1="331.9" x2="448.4" y2="331.9" stroke="#6e6e6e" stroke-width="2.0"/>
<line x1="448.4" y1="331.9" x2="452.3" y2="331.9" stroke="#bdbdbd" stroke-width="2.0"/>
<line x1="432.1" y1="343.7" x2="424.3" y2="340.0" stroke="#6e6e6e" stroke-width="2.0"/>
<line x1="424.3" y1="340.0" x2="416.5" y2="336.4" stroke="#e81a14" stroke-width="2.0"/>
<line x1="444.5" y1="331.9" x2="440.9" y2="324.4" stroke="#6e6e6e" stroke-width="2.0"/>
<line x1="440.9" y1="324.4" x2="437.3" y2="316.8" stroke="#e81a14" stroke-width="2.0"/>
<line x1="416.5" y1="336.4" x2="418.4" y2="327.8" stroke="#e81a14" stroke-width="2.0"/>
<line x1="418.4" y1="327.8" x2="420.3" y2="319.1" stroke="#6e6e6e" stroke-width="2.0"/>
<line x1="437.3" y1="316.8" x2="428.8" y2="318.0" stroke="#e81a14" stroke-width="2.0"/>
<line x1="428.8" y1="318.0" x2="420.3" y2="319.1" stroke="#6e6e6e" stroke-width="2.0"/>
<line x1="420.3" y1="319.1" x2="414.5" y2="313.1" stroke="#6e6e6e" stroke-width="2.0"/>
<line x1="414.5" y1="313.1" x2="408.7" y2="307.0" stroke="#e81a14" stroke-width="2.0"/>
<circle cx="431.6" cy="351.0" r="1.9" fill="url(#gH)" stroke="#909090" stroke-width="0.5"/>
<circle cx="434.2" cy="348.9" r="1.9" fill="url(#gH)" stroke="#909090" stroke-width="0.5"/>
<circle cx="449.7" cy="334.2" r="1.9" fill="url(#gH)" stroke="#909090" stroke-width="0.5"/>
<circle cx="452.3" cy="331.9" r="1.9" fill="url(#gH)" stroke="#909090" stroke-width="0.5"/>
<circle cx="432.1" cy="343.7" r="3.2" fill="url(#gC)"/>
<circle cx="444.5" cy="331.9" r="3.2" fill="url(#gC)"/>
<circle cx="416.5" cy="336.4" r="2.85" fill="url(#gO)"/>
<circle cx="437.3" cy="316.8" r="2.85" fill="url(#gO)"/>
<circle cx="420.3" cy="319.1" r="3.2" fill="url(#gC)"/>
<circle cx="408.7" cy="307.0" r="2.85" fill="url(#gO)"/>
</g>
<line x1="352.6" y1="252.6" x2="360.8" y2="249.5" stroke="#ef7a1f" stroke-width="2.2"/>
<line x1="357.6" y1="258.2" x2="366.0" y2="254.5" stroke="#ef7a1f" stroke-width="2.2"/>
<line x1="363.2" y1="263.2" x2="371.2" y2="259.7" stroke="#ef7a1f" stroke-width="2.2"/>
<line x1="407.7" y1="244.3" x2="410.5" y2="252.6" stroke="#ef7a1f" stroke-width="2.2"/>
<line x1="402.2" y1="249.5" x2="405.3" y2="257.6" stroke="#ef7a1f" stroke-width="2.2"/>
<line x1="396.6" y1="254.5" x2="400.3" y2="262.8" stroke="#ef7a1f" stroke-width="2.2"/>
<line x1="362.6" y1="282.3" x2="366.9" y2="290.7" stroke="#ef7a1f" stroke-width="2.2"/>
<line x1="357.6" y1="287.5" x2="361.9" y2="295.7" stroke="#ef7a1f" stroke-width="2.2"/>
<line x1="352.6" y1="292.9" x2="356.3" y2="300.9" stroke="#ef7a1f" stroke-width="2.2"/>
<line x1="390.1" y1="292.5" x2="398.4" y2="289.4" stroke="#ef7a1f" stroke-width="2.2"/>
<line x1="394.7" y1="297.7" x2="403.1" y2="294.4" stroke="#ef7a1f" stroke-width="2.2"/>
<line x1="400.3" y1="302.7" x2="408.6" y2="299.6" stroke="#ef7a1f" stroke-width="2.2"/>
<circle cx="383.4" cy="273.2" r="16" fill="url(#gLi)"/>

<g filter="url(#b1)">
<line x1="519.5" y1="67.0" x2="516.3" y2="63.6" stroke="#6e6e6e" stroke-width="1.35"/>
<line x1="516.3" y1="63.6" x2="513.1" y2="60.2" stroke="#bdbdbd" stroke-width="1.35"/>
<line x1="519.5" y1="67.0" x2="517.5" y2="65.0" stroke="#6e6e6e" stroke-width="1.35"/>
<line x1="517.5" y1="65.0" x2="515.5" y2="63.1" stroke="#bdbdbd" stroke-width="1.35"/>
<line x1="519.5" y1="67.0" x2="526.1" y2="65.7" stroke="#6e6e6e" stroke-width="1.35"/>
<line x1="526.1" y1="65.7" x2="532.8" y2="64.4" stroke="#bdbdbd" stroke-width="1.35"/>
<line x1="519.5" y1="67.0" x2="518.5" y2="76.0" stroke="#6e6e6e" stroke-width="1.35"/>
<line x1="518.5" y1="76.0" x2="517.5" y2="85.0" stroke="#e81a14" stroke-width="1.35"/>
<line x1="517.5" y1="85.0" x2="509.4" y2="87.2" stroke="#e81a14" stroke-width="1.35"/>
<line x1="509.4" y1="87.2" x2="501.2" y2="89.5" stroke="#6e6e6e" stroke-width="1.35"/>
<line x1="501.2" y1="89.5" x2="497.6" y2="86.7" stroke="#6e6e6e" stroke-width="1.35"/>
<line x1="497.6" y1="86.7" x2="494.1" y2="83.8" stroke="#bdbdbd" stroke-width="1.35"/>
<line x1="501.2" y1="89.5" x2="499.2" y2="88.0" stroke="#6e6e6e" stroke-width="1.35"/>
<line x1="499.2" y1="88.0" x2="497.3" y2="86.6" stroke="#bdbdbd" stroke-width="1.35"/>
<line x1="501.2" y1="89.5" x2="500.2" y2="99.0" stroke="#6e6e6e" stroke-width="1.35"/>
<line x1="500.2" y1="99.0" x2="499.2" y2="108.4" stroke="#6e6e6e" stroke-width="1.35"/>
<line x1="499.2" y1="108.4" x2="494.9" y2="107.6" stroke="#6e6e6e" stroke-width="1.35"/>
<line x1="494.9" y1="107.6" x2="490.5" y2="106.8" stroke="#bdbdbd" stroke-width="1.35"/>
<line x1="499.2" y1="108.4" x2="495.4" y2="109.1" stroke="#6e6e6e" stroke-width="1.35"/>
<line x1="495.4" y1="109.1" x2="491.7" y2="109.8" stroke="#bdbdbd" stroke-width="1.35"/>
<line x1="499.2" y1="108.4" x2="504.5" y2="115.3" stroke="#6e6e6e" stroke-width="1.35"/>
<line x1="504.5" y1="115.3" x2="509.8" y2="122.2" stroke="#e81a14" stroke-width="1.35"/>
<line x1="509.8" y1="122.2" x2="505.5" y2="129.8" stroke="#e81a14" stroke-width="1.35"/>
<line x1="505.5" y1="129.8" x2="501.2" y2="137.4" stroke="#6e6e6e" stroke-width="1.35"/>
<line x1="501.2" y1="137.4" x2="496.8" y2="137.4" stroke="#6e6e6e" stroke-width="1.35"/>
<line x1="496.8" y1="137.4" x2="492.4" y2="137.5" stroke="#bdbdbd" stroke-width="1.35"/>
<line x1="501.2" y1="137.4" x2="497.9" y2="138.5" stroke="#6e6e6e" stroke-width="1.35"/>
<line x1="497.9" y1="138.5" x2="494.5" y2="139.6" stroke="#bdbdbd" stroke-width="1.35"/>
<line x1="501.2" y1="137.4" x2="505.5" y2="142.1" stroke="#6e6e6e" stroke-width="1.35"/>
<line x1="505.5" y1="142.1" x2="509.9" y2="146.8" stroke="#bdbdbd" stroke-width="1.35"/>
<circle cx="513.1" cy="60.2" r="1.9" fill="url(#gH)" stroke="#909090" stroke-width="0.5"/>
<circle cx="515.5" cy="63.1" r="1.9" fill="url(#gH)" stroke="#909090" stroke-width="0.5"/>
<circle cx="532.8" cy="64.4" r="1.9" fill="url(#gH)" stroke="#909090" stroke-width="0.5"/>
<circle cx="494.1" cy="83.8" r="1.9" fill="url(#gH)" stroke="#909090" stroke-width="0.5"/>
<circle cx="497.3" cy="86.6" r="1.9" fill="url(#gH)" stroke="#909090" stroke-width="0.5"/>
<circle cx="490.5" cy="106.8" r="1.9" fill="url(#gH)" stroke="#909090" stroke-width="0.5"/>
<circle cx="491.7" cy="109.8" r="1.9" fill="url(#gH)" stroke="#909090" stroke-width="0.5"/>
<circle cx="492.4" cy="137.5" r="1.9" fill="url(#gH)" stroke="#909090" stroke-width="0.5"/>
<circle cx="494.5" cy="139.6" r="1.9" fill="url(#gH)" stroke="#909090" stroke-width="0.5"/>
<circle cx="509.9" cy="146.8" r="1.9" fill="url(#gH)" stroke="#909090" stroke-width="0.5"/>
<circle cx="519.5" cy="67.0" r="3.2" fill="url(#gC)"/>
<circle cx="517.5" cy="85.0" r="2.85" fill="url(#gO)"/>
<circle cx="501.2" cy="89.5" r="3.2" fill="url(#gC)"/>
<circle cx="499.2" cy="108.4" r="3.2" fill="url(#gC)"/>
<circle cx="509.8" cy="122.2" r="2.85" fill="url(#gO)"/>
<circle cx="501.2" cy="137.4" r="3.2" fill="url(#gC)"/>
<line x1="555.5" y1="169.2" x2="552.3" y2="165.8" stroke="#6e6e6e" stroke-width="1.35"/>
<line x1="552.3" y1="165.8" x2="549.1" y2="162.4" stroke="#bdbdbd" stroke-width="1.35"/>
<line x1="555.5" y1="169.2" x2="553.5" y2="167.2" stroke="#6e6e6e" stroke-width="1.35"/>
<line x1="553.5" y1="167.2" x2="551.5" y2="165.3" stroke="#bdbdbd" stroke-width="1.35"/>
<line x1="555.5" y1="169.2" x2="562.1" y2="167.9" stroke="#6e6e6e" stroke-width="1.35"/>
<line x1="562.1" y1="167.9" x2="568.8" y2="166.6" stroke="#bdbdbd" stroke-width="1.35"/>
<line x1="555.5" y1="169.2" x2="554.5" y2="178.2" stroke="#6e6e6e" stroke-width="1.35"/>
<line x1="554.5" y1="178.2" x2="553.5" y2="187.2" stroke="#e81a14" stroke-width="1.35"/>
<line x1="553.5" y1="187.2" x2="545.4" y2="189.4" stroke="#e81a14" stroke-width="1.35"/>
<line x1="545.4" y1="189.4" x2="537.2" y2="191.7" stroke="#6e6e6e" stroke-width="1.35"/>
<line x1="537.2" y1="191.7" x2="533.7" y2="188.8" stroke="#6e6e6e" stroke-width="1.35"/>
<line x1="533.7" y1="188.8" x2="530.1" y2="186.0" stroke="#bdbdbd" stroke-width="1.35"/>
<line x1="537.2" y1="191.7" x2="535.2" y2="190.2" stroke="#6e6e6e" stroke-width="1.35"/>
<line x1="535.2" y1="190.2" x2="533.3" y2="188.8" stroke="#bdbdbd" stroke-width="1.35"/>
<line x1="537.2" y1="191.7" x2="536.2" y2="201.2" stroke="#6e6e6e" stroke-width="1.35"/>
<line x1="536.2" y1="201.2" x2="535.2" y2="210.6" stroke="#6e6e6e" stroke-width="1.35"/>
<line x1="535.2" y1="210.6" x2="530.9" y2="209.8" stroke="#6e6e6e" stroke-width="1.35"/>
<line x1="530.9" y1="209.8" x2="526.5" y2="209.0" stroke="#bdbdbd" stroke-width="1.35"/>
<line x1="535.2" y1="210.6" x2="531.5" y2="211.3" stroke="#6e6e6e" stroke-width="1.35"/>
<line x1="531.5" y1="211.3" x2="527.7" y2="212.0" stroke="#bdbdbd" stroke-width="1.35"/>
<line x1="535.2" y1="210.6" x2="540.5" y2="217.5" stroke="#6e6e6e" stroke-width="1.35"/>
<line x1="540.5" y1="217.5" x2="545.8" y2="224.4" stroke="#e81a14" stroke-width="1.35"/>
<line x1="545.8" y1="224.4" x2="541.5" y2="232.0" stroke="#e81a14" stroke-width="1.35"/>
<line x1="541.5" y1="232.0" x2="537.2" y2="239.6" stroke="#6e6e6e" stroke-width="1.35"/>
<line x1="537.2" y1="239.6" x2="532.8" y2="239.7" stroke="#6e6e6e" stroke-width="1.35"/>
<line x1="532.8" y1="239.7" x2="528.4" y2="239.7" stroke="#bdbdbd" stroke-width="1.35"/>
<line x1="537.2" y1="239.6" x2="533.9" y2="240.7" stroke="#6e6e6e" stroke-width="1.35"/>
<line x1="533.9" y1="240.7" x2="530.5" y2="241.8" stroke="#bdbdbd" stroke-width="1.35"/>
<line x1="537.2" y1="239.6" x2="541.5" y2="244.3" stroke="#6e6e6e" stroke-width="1.35"/>
<line x1="541.5" y1="244.3" x2="545.9" y2="249.0" stroke="#bdbdbd" stroke-width="1.35"/>
<circle cx="549.1" cy="162.4" r="1.9" fill="url(#gH)" stroke="#909090" stroke-width="0.5"/>
<circle cx="551.5" cy="165.3" r="1.9" fill="url(#gH)" stroke="#909090" stroke-width="0.5"/>
<circle cx="568.8" cy="166.6" r="1.9" fill="url(#gH)" stroke="#909090" stroke-width="0.5"/>
<circle cx="530.1" cy="186.0" r="1.9" fill="url(#gH)" stroke="#909090" stroke-width="0.5"/>
<circle cx="533.3" cy="188.8" r="1.9" fill="url(#gH)" stroke="#909090" stroke-width="0.5"/>
<circle cx="526.5" cy="209.0" r="1.9" fill="url(#gH)" stroke="#909090" stroke-width="0.5"/>
<circle cx="527.7" cy="212.0" r="1.9" fill="url(#gH)" stroke="#909090" stroke-width="0.5"/>
<circle cx="528.4" cy="239.7" r="1.9" fill="url(#gH)" stroke="#909090" stroke-width="0.5"/>
<circle cx="530.5" cy="241.8" r="1.9" fill="url(#gH)" stroke="#909090" stroke-width="0.5"/>
<circle cx="545.9" cy="249.0" r="1.9" fill="url(#gH)" stroke="#909090" stroke-width="0.5"/>
<circle cx="555.5" cy="169.2" r="3.2" fill="url(#gC)"/>
<circle cx="553.5" cy="187.2" r="2.85" fill="url(#gO)"/>
<circle cx="537.2" cy="191.7" r="3.2" fill="url(#gC)"/>
<circle cx="535.2" cy="210.6" r="3.2" fill="url(#gC)"/>
<circle cx="545.8" cy="224.4" r="2.85" fill="url(#gO)"/>
<circle cx="537.2" cy="239.6" r="3.2" fill="url(#gC)"/>
</g>
<line x1="521.4" y1="90.9" x2="530.3" y2="87.4" stroke="#ef7a1f" stroke-width="2.2"/>
<line x1="527.3" y1="96.1" x2="536.3" y2="92.3" stroke="#ef7a1f" stroke-width="2.2"/>
<line x1="533.0" y1="101.3" x2="541.9" y2="97.5" stroke="#ef7a1f" stroke-width="2.2"/>
<line x1="514.7" y1="126.5" x2="519.5" y2="118.5" stroke="#ef7a1f" stroke-width="2.2"/>
<line x1="522.4" y1="126.5" x2="527.3" y2="118.5" stroke="#ef7a1f" stroke-width="2.2"/>
<line x1="530.3" y1="126.5" x2="534.8" y2="118.0" stroke="#ef7a1f" stroke-width="2.2"/>
<line x1="560.4" y1="192.9" x2="569.0" y2="189.6" stroke="#ef7a1f" stroke-width="2.2"/>
<line x1="566.1" y1="198.1" x2="575.0" y2="194.4" stroke="#ef7a1f" stroke-width="2.2"/>
<line x1="572.0" y1="203.3" x2="580.9" y2="199.3" stroke="#ef7a1f" stroke-width="2.2"/>
<line x1="553.4" y1="228.7" x2="558.1" y2="220.3" stroke="#ef7a1f" stroke-width="2.2"/>
<line x1="560.9" y1="228.7" x2="566.0" y2="220.3" stroke="#ef7a1f" stroke-width="2.2"/>
<line x1="569.1" y1="228.7" x2="573.5" y2="220.0" stroke="#ef7a1f" stroke-width="2.2"/>
<line x1="612.2" y1="225.5" x2="616.7" y2="217.2" stroke="#ef7a1f" stroke-width="2.2"/>
<line x1="619.7" y1="225.5" x2="624.4" y2="217.2" stroke="#ef7a1f" stroke-width="2.2"/>
<line x1="627.6" y1="225.5" x2="631.9" y2="217.2" stroke="#ef7a1f" stroke-width="2.2"/>
<circle cx="553.1" cy="114.7" r="16" fill="url(#gLi)"/>
<circle cx="592.1" cy="216.8" r="15.9" fill="url(#gLi)"/>


<circle cx="645.8" cy="118.7" r="3.2" fill="url(#gR)"/>
<circle cx="665.6" cy="111.8" r="3.2" fill="url(#gR)"/>
<circle cx="638.3" cy="222.2" r="3.2" fill="url(#gR)"/>
<circle cx="658.2" cy="215.2" r="3.2" fill="url(#gR)"/>
<circle cx="688.4" cy="297.7" r="3.2" fill="url(#gR)"/>
<circle cx="661.6" cy="155.9" r="3.2" fill="url(#gB)"/>
<circle cx="698.6" cy="147" r="3.2" fill="url(#gB)"/>
<circle cx="692.9" cy="230" r="3.2" fill="url(#gB)"/>
<circle cx="668.3" cy="264.5" r="3.2" fill="url(#gB)"/>
<circle cx="659.4" cy="298" r="16" fill="url(#gLi)"/>

<path d="M667.92,287.23 L668.01,285.19 L668.29,283.17 L668.74,281.20 L669.38,279.29 L670.18,277.48 L671.14,275.76 L672.24,274.18 L673.49,272.73 L674.86,271.45 L676.34,270.34 L677.91,269.41 L679.55,268.68 L681.25,268.15 L682.99,267.83 L684.75,267.72 L686.51,267.83 L688.25,268.15 L689.95,268.68 L691.60,269.41 L693.17,270.34 L694.65,271.45 L696.02,272.73 L697.26,274.18 L698.37,275.76 L699.33,277.48 L700.13,279.29 L700.76,281.20 L701.22,283.17 L701.49,284.26 L701.29,285.94 L700.59,287.72 L699.70,286.14 L699.01,283.56 L698.12,280.79 L696.83,277.82 L695.27,275.04 L694.23,273.69 L693.07,272.49 L691.83,271.45 L690.51,270.58 L689.13,269.90 L687.70,269.41 L686.23,269.11 L684.75,269.01 L683.27,269.11 L681.81,269.41 L680.38,269.90 L678.99,270.58 L677.67,271.45 L676.43,272.49 L675.28,273.69 L674.23,275.04 L673.30,276.52 L672.49,278.12 L671.82,279.82 L671.29,281.60 L670.90,283.44 L670.67,285.32 L670.59,287.23 L670.59,287.23 Z" fill="url(#gArc)"/>




<g filter="url(#tx)"><g transform="translate(209.9,138.8) skewY(9)" fill="#333" font-style="italic"><text x="0" y="0" font-size="17.2">Li</text><text x="12.6" y="5.8" font-size="10">2</text><text x="19.0" y="0" font-size="17.2">S</text><text x="29.2" y="6.2" font-size="10">n</text></g>
<g fill="#333"><text x="184.3" y="214" font-size="16.5">Li</text><text x="197.4" y="219.2" font-size="9.5">2</text><text x="203.0" y="214" font-size="16.5">S</text><text x="214.8" y="219.1" font-size="9.5">n</text></g>
<g transform="translate(553.3,113.5) rotate(-25)" fill="#333"><text x="-9.6" y="6.2" font-size="17.5">Li</text><text x="5.4" y="0.4" font-size="10">+</text></g>
<g transform="translate(592.3,215.6) rotate(-25)" fill="#333"><text x="-9.6" y="6.2" font-size="17.5">Li</text><text x="5.4" y="0.4" font-size="10">+</text></g>
<g transform="translate(659.4,298) rotate(-22)" fill="#333"><text x="-7.0" y="6.0" font-size="17.5">Li</text></g>
<text x="353.1" y="114.7" font-size="16.8" fill="#333">Li</text>
<text x="366.7" y="109.0" font-size="9.5" fill="#333">+</text>
<text x="375.9" y="280" font-size="17" fill="#333">Li</text>
<text x="391.4" y="274" font-size="7" font-weight="bold" fill="#333">+</text>
<text x="702.8" y="279.8" font-size="12.5" fill="#333">e</text>
<text x="709.2" y="275.6" font-size="8" fill="#333">−</text>
<text transform="translate(72.9,389.9) scale(1,0.955)" font-size="17.2" word-spacing="0.3" fill="#000" stroke="#000" stroke-width="0.4">LPS@doped carbon</text>
<text transform="translate(294.7,389.9) scale(1,0.955)" font-size="17.4" fill="#000" stroke="#000" stroke-width="0.4">Ion–solvent complex</text>
<text transform="translate(548.5,391.9) scale(1,0.955)" font-size="17.6" fill="#000" stroke="#000" stroke-width="0.4">Lithium nucleation</text></g>
</svg>
</body></html>
